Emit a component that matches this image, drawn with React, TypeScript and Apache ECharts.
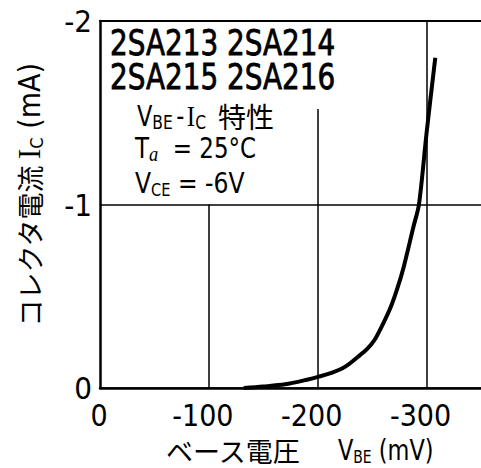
import React, { useEffect, useRef } from "react";
import * as echarts from "echarts";

// V_BE (mV) and I_C (mA)
const vbe = [-132, -150, -170, -190, -201, -215, -225, -237, -245, -252, -260, -267, -273, -279, -288, -293, -300, -308];
const ic = [0, -0.008, -0.02, -0.045, -0.062, -0.088, -0.115, -0.17, -0.21, -0.26, -0.35, -0.44, -0.54, -0.66, -0.88, -1.0, -1.39, -1.8];

const xTicks = [0, -100, -200, -300];
// vertical grid segments: x position and the top value they reach
const gridX = [-100, -200, -300];
const gridTop = [-1, -1.52, -2];

const FONT = '"DejaVu Sans Condensed", "Liberation Sans Narrow", "DejaVu Sans", sans-serif';
const JP = '"Noto Sans CJK JP", sans-serif';
const SERIF = '"Liberation Serif", "DejaVu Serif", serif';

export default function App() {
  const ref = useRef<HTMLDivElement>(null);
  useEffect(() => {
    document.body.style.margin = "0";
    const chart = echarts.init(ref.current!, null, { renderer: "svg" });
    const rich = {
      n: { fontFamily: FONT, fontSize: 29, lineHeight: 32, verticalAlign: "middle", color: "#000" },
      s: { fontFamily: FONT, fontSize: 18, lineHeight: 18, verticalAlign: "bottom", color: "#000" },
      t: { fontFamily: FONT, fontSize: 20, lineHeight: 19, verticalAlign: "bottom", color: "#000" },
      h: { fontFamily: FONT, fontSize: 29, lineHeight: 32, verticalAlign: "middle", color: "#000", padding: [0, 3, 0, 4] },
      i: { fontFamily: SERIF, fontSize: 29, lineHeight: 32, verticalAlign: "middle", color: "#000" },
      a: { fontFamily: SERIF, fontStyle: "italic", fontSize: 21, lineHeight: 18, verticalAlign: "bottom", color: "#000" },
    };
    chart.setOption({
      animation: false,
      backgroundColor: "#fff",
      grid: { left: 100, top: 21, right: -7.5, bottom: 80 },
      xAxis: [
        {
          type: "value",
          min: -350,
          max: 0,
          inverse: true,
          axisLine: { show: true, onZero: false, lineStyle: { color: "#000", width: 2.5 } },
          axisTick: { show: false },
          splitLine: { show: false },
          axisLabel: {
            customValues: xTicks,
            formatter: (v: number) => (v === 0 ? "{z|0}" : String(v)),
            fontSize: 30,
            lineHeight: 24,
            fontFamily: FONT,
            color: "#000",
            margin: 15,
            padding: [0, 12, 0, 0],
            rich: { z: { fontSize: 30, lineHeight: 24, fontFamily: FONT, color: "#000", padding: [0, 0, 0, 10] } },
          },
        },
        {
          type: "value",
          position: "top",
          min: -350,
          max: 0,
          inverse: true,
          axisLine: { show: true, onZero: false, lineStyle: { color: "#000", width: 2 } },
          axisTick: { show: false },
          axisLabel: { show: false },
          splitLine: { show: false },
        },
      ],
      yAxis: {
        type: "value",
        min: -2,
        max: 0,
        interval: 1,
        inverse: true,
        axisLine: { show: true, onZero: false, lineStyle: { color: "#000", width: 2.5 } },
        axisTick: { show: false },
        splitLine: { show: true, lineStyle: { color: "#000", width: 1.5 } },
        axisLabel: { fontSize: 31, fontFamily: FONT, color: "#000", margin: 8 },
      },
      series: [
        {
          type: "line",
          data: vbe.map((v, i) => [v, ic[i]]),
          smooth: 0.3,
          symbol: "none",
          lineStyle: { color: "#000", width: 4 },
          markLine: {
            silent: true,
            symbol: ["none", "none"],
            label: { show: false },
            lineStyle: { color: "#000", width: 1.5, type: "solid" },
            data: gridX.map((x, k) => [{ coord: [x, 0] }, { coord: [x, gridTop[k]] }]),
          },
        },
      ],
      graphic: [
        {
          type: "text",
          x: 110,
          y: 43,
          scaleX: 0.86,
          style: {
            text: "2SA213 2SA214",
            font: `36px ${FONT}`,
            fill: "#000",
            stroke: "#000",
            lineWidth: 0.8,
            verticalAlign: "middle",
          },
        },
        {
          type: "text",
          x: 110,
          y: 77,
          scaleX: 0.86,
          style: {
            text: "2SA215 2SA216",
            font: `36px ${FONT}`,
            fill: "#000",
            stroke: "#000",
            lineWidth: 0.8,
            verticalAlign: "middle",
          },
        },
        {
          type: "text",
          x: 137,
          y: 116,
          scaleX: 0.86,
          style: { text: "{n|V}{t|BE}{h|-}{i|I}{t|C}", rich, verticalAlign: "middle" },
        },
        {
          type: "text",
          x: 218,
          y: 116,
          style: { text: "特性", font: `28px ${JP}`, fill: "#000", verticalAlign: "middle" },
        },
        {
          type: "text",
          x: 135,
          y: 148,
          scaleX: 0.88,
          style: { text: "{n|T}{a|a}{n|  = 25°C}", rich, verticalAlign: "middle" },
        },
        {
          type: "text",
          x: 135,
          y: 183,
          scaleX: 0.9,
          style: { text: "{n|V}{s|CE}{n| = -6V}", rich, verticalAlign: "middle" },
        },
        {
          type: "text",
          x: 166,
          y: 450,
          style: { text: "ベース電圧", font: `27px ${JP}`, fill: "#000", verticalAlign: "middle" },
        },
        {
          type: "text",
          x: 338,
          y: 450,
          scaleX: 0.86,
          style: { text: "{n|V}{s|BE}{n| (mV)}", rich, verticalAlign: "middle" },
        },
        {
          type: "text",
          x: 29,
          y: 246,
          rotation: Math.PI / 2,
          style: { text: "コレクタ電流", font: `27px ${JP}`, fill: "#000", align: "center", verticalAlign: "middle" },
        },
        {
          type: "text",
          x: 29,
          y: 111,
          rotation: Math.PI / 2,
          style: {
            text: "{i|I}{s|C}{n| (mA)}",
            rich: { ...rich, n: { ...rich.n, fontSize: 30 }, i: { ...rich.i, fontSize: 31 } },
            align: "center",
            verticalAlign: "middle",
          },
        },
      ],
    });
    return () => chart.dispose();
  }, []);
  return <div ref={ref} style={{ width: 481, height: 468 }} />;
}
